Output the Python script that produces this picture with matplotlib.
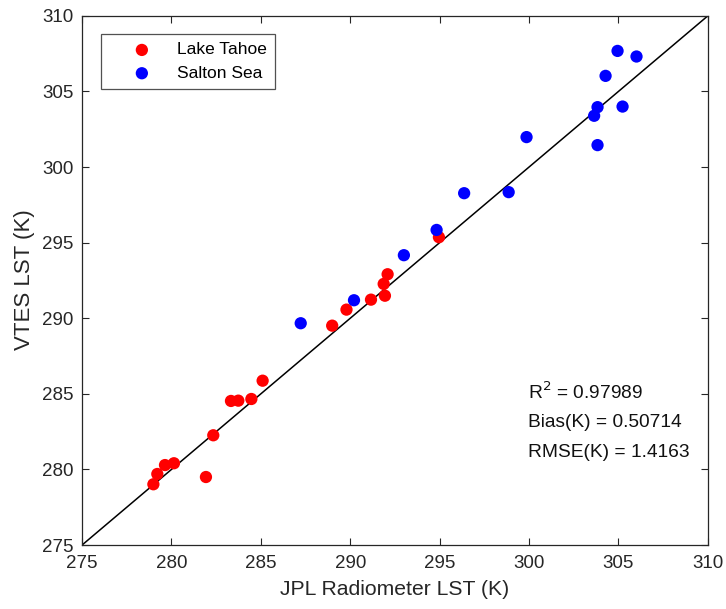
import numpy as np
import matplotlib
matplotlib.use("Agg")
import matplotlib.pyplot as plt

plt.rcParams['font.family'] = ['Liberation Sans', 'DejaVu Sans']

# Lake Tahoe: JPL radiometer LST vs VTES LST (K)
tahoe_x = [278.99, 279.21, 279.64, 280.14, 281.93, 282.34, 283.33, 283.74, 284.47, 285.10,
           288.99, 289.79, 291.16, 291.94, 291.87, 292.09, 294.96]
tahoe_y = [279.02, 279.70, 280.29, 280.41, 279.50, 282.26, 284.53, 284.55, 284.66, 285.87,
           289.51, 290.57, 291.23, 291.49, 292.27, 292.91, 295.36]

# Salton Sea
salton_x = [287.23, 290.21, 293.00, 294.83, 296.37, 298.86, 299.86, 303.83, 303.64,
            303.83, 305.23, 304.28, 304.95, 306.01]
salton_y = [289.67, 291.19, 294.17, 295.84, 298.27, 298.34, 301.98, 301.45, 303.39,
            303.96, 304.00, 306.03, 307.68, 307.31]

stats = ['R$^2$ = 0.97989', 'Bias(K) = 0.50714', 'RMSE(K) = 1.4163']
ticks = [275, 280, 285, 290, 295, 300, 305, 310]

fig = plt.figure(figsize=(7.26, 6.09), dpi=100)
ax = fig.add_axes([0.113, 0.105, 0.862, 0.869])

ax.plot([275, 310], [275, 310], color='black', linewidth=1.1, zorder=1)
ax.scatter(tahoe_x, tahoe_y, s=78, color='#ff0000', edgecolors='none', label='Lake Tahoe', zorder=2)
ax.scatter(salton_x, salton_y, s=78, color='#0000ff', edgecolors='none', label='Salton Sea', zorder=2)

ax.set_xlim(275, 310)
ax.set_ylim(275, 310)
ax.set_xticks(ticks)
ax.set_yticks(ticks)

gray = '#262626'
ax.tick_params(direction='in', top=True, right=True, length=4.8, width=0.8,
               labelsize=13.5, colors=gray)
ax.tick_params(axis='x', pad=7)
ax.tick_params(axis='y', pad=6)
for sp in ax.spines.values():
    sp.set_color(gray)
    sp.set_linewidth(0.9)

ax.set_xlabel('JPL Radiometer LST (K)', fontsize=15.2, color=gray)
ax.set_ylabel('VTES LST (K)', fontsize=16, color=gray)
ax.xaxis.set_label_coords(0.499, -0.066)
ax.yaxis.set_label_coords(-0.075, 0.501)

leg = ax.legend(loc='upper left', bbox_to_anchor=(0.0304, 0.966), borderaxespad=0,
                fontsize=12.5, frameon=True, fancybox=False, edgecolor=gray,
                handletextpad=0.14, borderpad=0.49, labelspacing=0.47,
                handlelength=3.72, markerscale=1.0)
leg.get_frame().set_linewidth(0.9)

for i, s in enumerate(stats):
    ax.text(0.712, 0.288 - i * 0.057, s, transform=ax.transAxes, fontsize=13.8,
            color='#111111', ha='left', va='center')

plt.savefig('out.png', dpi=100)
